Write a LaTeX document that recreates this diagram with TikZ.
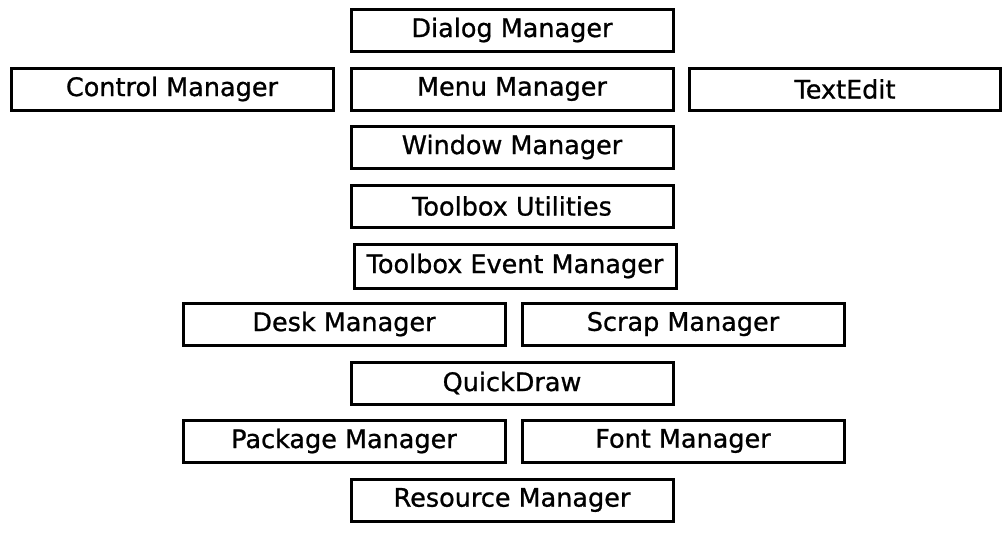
\documentclass[tikz,border=0pt]{standalone}
\usepackage{fontspec}
\newfontfamily\mgrfont{DejaVu Sans}[FakeBold=0.9]
\usepackage{tikz}
\usetikzlibrary{positioning}
\tikzset{
  mgr/.style={draw, line width=3pt, minimum width=322pt, minimum height=42pt,
    inner sep=0pt, font=\mgrfont\fontsize{25.5}{28}\selectfont},
}

\begin{document}
\begin{tikzpicture}[x=1pt,y=-1pt]
  \useasboundingbox (0,0) rectangle (1004,533); % page size

  % top rows
  \node[mgr] (dialog) at (512,30) {Dialog Manager};
  \node[mgr] (control) at (172,89) {Control Manager};
  \node[mgr] (menu) at (512,89) {Menu Manager};
  \node[mgr,minimum width=311pt] (textedit) at (845,89) {TextEdit};
  \node[mgr] (window) at (512,147) {Window Manager};
  \node[mgr] (utils) at (512,206) {Toolbox Utilities};
  \node[mgr,minimum height=44pt] (event) at (515,266) {Toolbox Event Manager};

  % lower rows
  \node[mgr] (desk) at (344,324) {Desk Manager};
  \node[mgr] (scrap) at (683,324) {Scrap Manager};
  \node[mgr] (quickdraw) at (512,383) {QuickDraw};
  \node[mgr] (package) at (344,441) {Package Manager};
  \node[mgr] (font) at (683,441) {Font Manager};
  \node[mgr] (resource) at (512,500) {Resource Manager};
\end{tikzpicture}
\end{document}
